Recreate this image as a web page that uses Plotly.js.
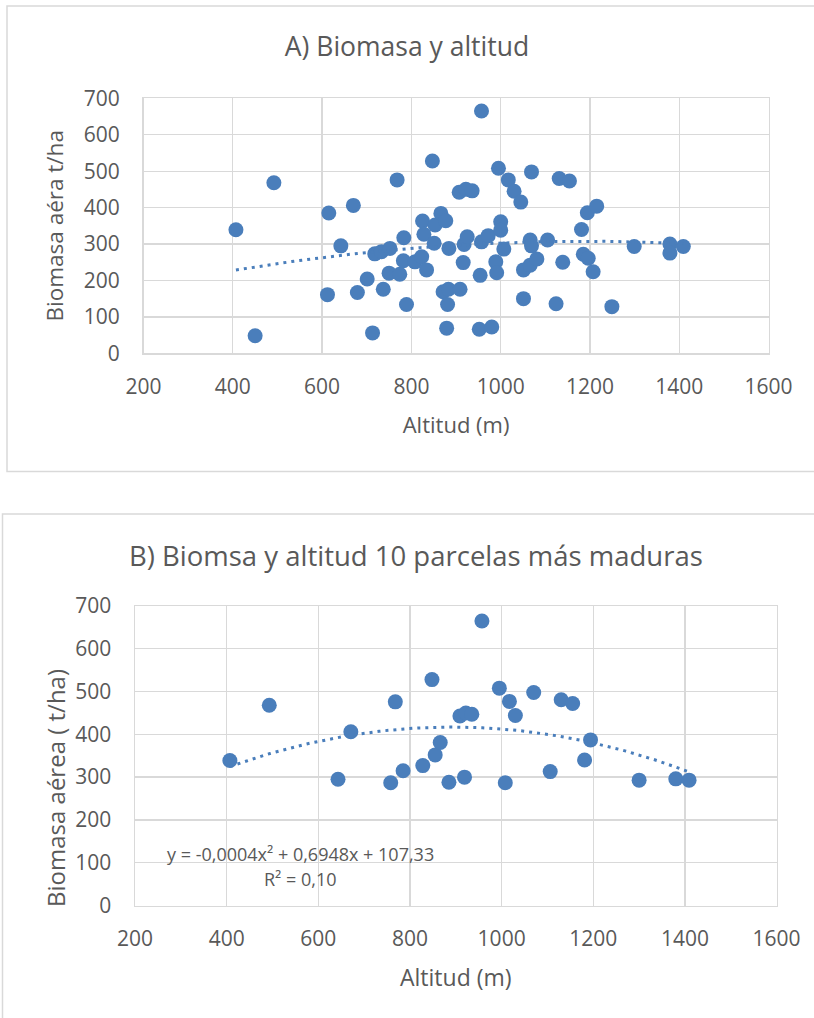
<!DOCTYPE html>
<html>
<head>
<meta charset="utf-8">
<script src="https://cdn.plot.ly/plotly-3.0.1.min.js"></script>
<style>
  html, body { margin: 0; padding: 0; background: #ffffff; }
  #chart { width: 814px; height: 1018px; }
</style>
</head>
<body>
<div id="chart"></div>
<script>
// ---- Data ----
const altitudA = [407, 450, 492, 612, 615, 642, 670, 679, 701, 713, 718, 733, 737, 750, 752, 768, 774, 782, 783, 789,
  808, 823, 825, 828, 834, 847, 851, 853, 866, 871, 877, 879, 881, 883, 884, 907, 909, 916, 918, 922,
  925, 936, 952, 954, 957, 957, 972, 980, 989, 991, 995, 1000, 1000, 1007, 1017, 1030, 1045, 1051, 1051, 1066,
  1066, 1069, 1069, 1081, 1105, 1124, 1131, 1139, 1154, 1181, 1185, 1194, 1196, 1207, 1215, 1249, 1299, 1379, 1379, 1409];
const biomasaA = [339, 48, 468, 161, 385, 295, 406, 167, 204, 56, 273, 279, 176, 220, 288, 476, 217, 254, 317, 134,
  251, 265, 363, 327, 229, 528, 302, 352, 384, 169, 364, 69, 134, 176, 288, 442, 176, 249, 299, 450,
  320, 446, 66, 214, 665, 306, 323, 72, 251, 221, 508, 361, 338, 286, 476, 445, 415, 229, 150, 311,
  242, 498, 295, 259, 311, 136, 480, 250, 473, 340, 272, 386, 261, 224, 404, 128, 293, 300, 275, 293];

const altitudB = [407, 493, 643, 671, 758, 768, 785, 828, 848, 855, 866, 885, 909, 919, 922, 935, 957, 995, 1008, 1017,
  1030, 1070, 1106, 1130, 1155, 1181, 1194, 1300, 1380, 1409];
const biomasaB = [339, 468, 295, 406, 287, 476, 315, 327, 528, 352, 381, 288, 443, 300, 450, 447, 665, 508, 287, 477,
  444, 498, 313, 481, 472, 340, 387, 293, 296, 293];

const titleA = 'A) Biomasa y altitud';
const titleB = 'B) Biomsa y altitud 10 parcelas más maduras';
const xTitle = 'Altitud (m)';
const yTitleA = 'Biomasa aéra t/ha';
const yTitleB = 'Biomasa aérea ( t/ha)';
const eqText = 'y = -0,0004x² + 0,6948x + 107,33';
const r2Text = 'R² = 0,10';

// ---- Polynomial (order 2) trend line, least squares like the spreadsheet ----
function polyFit2(xs, ys) {
  let s = [0,0,0,0,0], t = [0,0,0];
  for (let i = 0; i < xs.length; i++) {
    const x = xs[i], y = ys[i];
    let p = 1;
    for (let k = 0; k < 5; k++) { s[k] += p; p *= x; }
    t[0] += y; t[1] += y * x; t[2] += y * x * x;
  }
  const M = [[s[0], s[1], s[2], t[0]], [s[1], s[2], s[3], t[1]], [s[2], s[3], s[4], t[2]]];
  for (let c = 0; c < 3; c++) {
    let piv = c;
    for (let r = c + 1; r < 3; r++) if (Math.abs(M[r][c]) > Math.abs(M[piv][c])) piv = r;
    [M[c], M[piv]] = [M[piv], M[c]];
    for (let r = 0; r < 3; r++) {
      if (r === c) continue;
      const f = M[r][c] / M[c][c];
      for (let k = c; k < 4; k++) M[r][k] -= f * M[c][k];
    }
  }
  return [M[0][3] / M[0][0], M[1][3] / M[1][1], M[2][3] / M[2][2]];
}
function trendTrace(xs, ys, xa, ya) {
  const c = polyFit2(xs, ys);
  const lo = Math.min(...xs), hi = Math.max(...xs);
  const tx = [], ty = [];
  for (let i = 0; i <= 80; i++) {
    const x = lo + (hi - lo) * i / 80;
    tx.push(x); ty.push(c[0] + c[1] * x + c[2] * x * x);
  }
  return { x: tx, y: ty, xaxis: xa, yaxis: ya, type: 'scatter', mode: 'lines',
    line: { color: '#4a7ebb', width: 3, dash: '3px,5px' }, hoverinfo: 'skip', showlegend: false };
}

const blue = '#4a7ebb';
const grey = '#595959';
const grid = '#d9d9d9';
const font = 'Open Sans, Noto Sans, sans-serif';
const W = 814, H = 1018;
const px = v => v / W;
const py = v => 1 - v / H;

const traces = [
  { x: altitudA, y: biomasaA, xaxis: 'x', yaxis: 'y', type: 'scatter', mode: 'markers',
    marker: { color: blue, size: 15, line: { width: 0 } }, showlegend: false },
  trendTrace(altitudA, biomasaA, 'x', 'y'),
  { x: altitudB, y: biomasaB, xaxis: 'x2', yaxis: 'y2', type: 'scatter', mode: 'markers',
    marker: { color: blue, size: 15, line: { width: 0 } }, showlegend: false },
  trendTrace(altitudB, biomasaB, 'x2', 'y2')
];

function xAx(domain, anchor, standoff, tsize) {
  return {
    domain: domain, anchor: anchor, range: [200, 1600], dtick: 200, tick0: 200,
    showgrid: true, gridcolor: grid, gridwidth: 1.3, zeroline: false,
    showline: true, linecolor: grid, linewidth: 1.5, mirror: true,
    ticks: '', ticklabelstandoff: 14,
    tickfont: { family: font, size: 21, color: grey },
    title: { text: xTitle, font: { family: font, size: tsize, color: grey }, standoff: standoff }
  };
}
function yAx(domain, anchor, title, tsize, standoff) {
  return {
    domain: domain, anchor: anchor, range: [0, 700], dtick: 100,
    showgrid: true, gridcolor: grid, gridwidth: 1.3, zeroline: false,
    showline: true, linecolor: grid, linewidth: 1.5, mirror: true,
    ticks: '', ticklabelstandoff: 18,
    tickfont: { family: font, size: 21, color: grey },
    title: { text: title, font: { family: font, size: tsize, color: grey }, standoff: standoff }
  };
}

const layout = {
  width: W, height: H,
  margin: { l: 0, r: 0, t: 0, b: 0 },
  paper_bgcolor: '#ffffff', plot_bgcolor: '#ffffff',
  showlegend: false,
  font: { family: font, color: grey },
  title: { text: titleA, font: { family: font, size: 26.5, color: grey },
    x: px(407), xref: 'paper', xanchor: 'center', y: py(47), yref: 'paper', yanchor: 'middle' },
  xaxis: xAx([px(143.5), px(768.6)], 'y', 18, 22),
  yaxis: yAx([py(353.3), py(98.3)], 'x', yTitleA, 22.5, 14),
  xaxis2: xAx([px(135), px(776.6)], 'y2', 18, 23),
  yaxis2: Object.assign(yAx([py(905.5), py(606)], 'x2', '', 24, 14), { title: { text: '' } }),
  shapes: [
    { type: 'rect', xref: 'paper', yref: 'paper', x0: px(7), x1: 1.01, y0: py(471.5), y1: py(6),
      line: { color: grid, width: 1.5 }, fillcolor: 'rgba(0,0,0,0)', layer: 'below' },
    { type: 'rect', xref: 'paper', yref: 'paper', x0: px(2.5), x1: 1.01, y0: -0.01, y1: py(514),
      line: { color: grid, width: 1.5 }, fillcolor: 'rgba(0,0,0,0)', layer: 'below' }
  ],
  annotations: [
    { text: titleB, xref: 'paper', yref: 'paper', x: px(416), y: py(555), xanchor: 'center', yanchor: 'middle',
      showarrow: false, font: { family: font, size: 27.5, color: grey } },
    { text: yTitleB, xref: 'paper', yref: 'paper', x: px(55), y: py(788), xanchor: 'center', yanchor: 'middle',
      textangle: -90, showarrow: false, font: { family: font, size: 24, color: grey } },
    { text: eqText, xref: 'paper', yref: 'paper', x: px(300), y: py(854), xanchor: 'center', yanchor: 'middle',
      showarrow: false, font: { family: font, size: 18, color: grey } },
    { text: r2Text, xref: 'paper', yref: 'paper', x: px(300), y: py(879), xanchor: 'center', yanchor: 'middle',
      showarrow: false, font: { family: font, size: 18, color: grey } }
  ]
};

Plotly.newPlot('chart', traces, layout, { staticPlot: true, displayModeBar: false });
</script>
</body>
</html>
